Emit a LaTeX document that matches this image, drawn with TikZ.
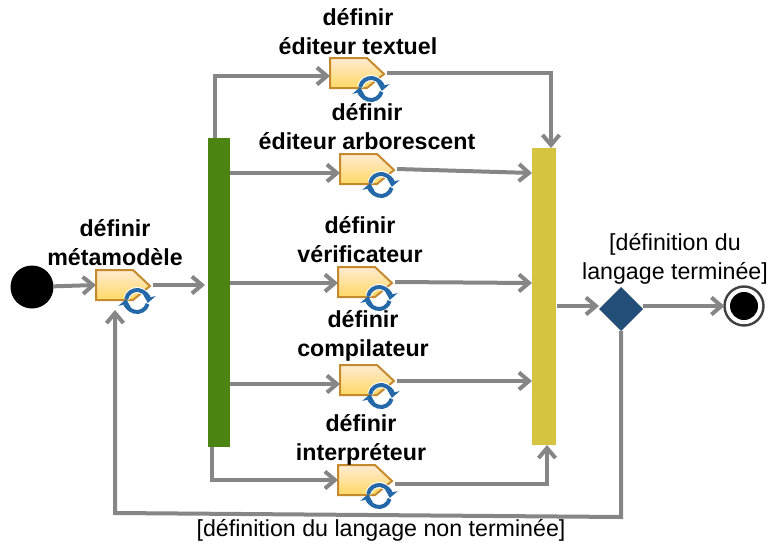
\documentclass[tikz,border=0pt]{standalone}
\usepackage{fontspec}
\setmainfont{Liberation Sans}
\usetikzlibrary{arrows.meta, positioning, shapes.geometric}
\definecolor{nicegray}{HTML}{868686}
\definecolor{nicegreen}{HTML}{4C8412}
\definecolor{niceyellow}{HTML}{D4C440}
\definecolor{niceblue}{HTML}{234E78}
\definecolor{iconblue}{HTML}{2468A8}
\definecolor{iconedge}{HTML}{C68A2E}
\tikzset{
  flow/.style={draw=nicegray, line width=4pt, -{Straight Barb[length=10pt,width=17pt]}},
  activitybox/.style={minimum width=54pt, minimum height=30pt, inner sep=0pt, outer sep=0pt},
  activityname/.style={font=\fontsize{23.2}{29.5}\selectfont\bfseries, align=center, inner sep=0pt},
  guard/.style={font=\fontsize{23.2}{29}\selectfont, align=center, inner sep=0pt},
  syncbar/.style={minimum width=22pt, inner sep=0pt, outer sep=0pt}
}
% name, position, y of incoming flow, y of outgoing flow
\newcommand{\activity}[4]{
  \node[activitybox] (#1) at (#2) {};
  \coordinate (#1-in) at ([yshift=#3]#1.west);
  \coordinate (#1-out) at ([xshift=3pt, yshift=#4]#1.east);
  \draw[iconedge, line width=2pt, top color=yellow!12!orange!18, bottom color=yellow!50!orange!60]
    (#1.north west) -- ([xshift=-17pt]#1.north east) -- ([yshift=-1pt]#1.east)
    -- ([xshift=-17pt]#1.south east) -- (#1.south west) -- cycle;
  \coordinate (#1-icon) at ([shift={(-13pt,-1pt)}]#1.south east);
  \draw[white, line width=6pt] (#1-icon) ++(170:11pt) arc (170:10:11pt);
  \draw[white, line width=6pt] (#1-icon) ++(350:11pt) arc (350:190:11pt);
  \draw[iconblue, line width=4pt, -{Stealth[length=8pt,width=13pt]}]
    (#1-icon) ++(170:11pt) arc (170:-10:11pt);
  \draw[iconblue, line width=4pt, -{Stealth[length=8pt,width=13pt]}]
    (#1-icon) ++(345:11pt) arc (345:170:11pt);
}
\begin{document}
\begin{tikzpicture}[x=1pt, y=1pt]
    \useasboundingbox (0,0) rectangle (769,-546);
    % bars
    \node[syncbar, fill=nicegreen, minimum height=309pt] (greenbar) at (219,-292.5) {};
    \node[syncbar, fill=niceyellow, minimum width=24pt, minimum height=297pt] (yellowbar) at (544,-296.5) {};
    % start, decision, end
    \node[circle, fill=black, minimum size=43pt, inner sep=0pt, outer sep=0pt] (start) at (32,-287) {};
    \node[diamond, fill=niceblue, minimum size=44pt, inner sep=0pt, outer sep=0pt] (decision) at (621,-309) {};
    \node[circle, draw=black!75, fill=white, line width=2.4pt, minimum size=39pt, inner sep=0pt, outer sep=0pt] (stop) at (744,-306) {};
    \node[circle, fill=black, minimum size=28pt, inner sep=0pt] (stopdot) at (stop) {};
    % activities
    \activity{meta}{123,-285}{0pt}{0pt}
    \activity{textuel}{357,-73}{-3pt}{0pt}
    \activity{arbo}{367,-169}{-4pt}{0pt}
    \activity{verif}{365,-282}{-1pt}{0pt}
    \activity{compil}{367,-380}{-4pt}{-1pt}
    \activity{interp}{365,-480}{0pt}{-4pt}
    % names
    \node[activityname, above=4pt of meta, xshift=-8pt] (metaname) {définir\\métamodèle};
    \node[activityname, above=3pt of textuel, xshift=1pt] (textuelname) {définir\\éditeur textuel};
    \node[activityname, above=4pt of arbo] (arboname) {définir\\éditeur arborescent};
    \node[activityname, above=4pt of verif, xshift=-5pt] (verifname) {définir\\vérificateur};
    \node[activityname, above=3pt of compil, xshift=-4pt] (compilname) {définir\\compilateur};
    \node[activityname, above=-1pt of interp, xshift=-4pt] (interpname) {définir\\interpréteur};
    % guards
    \node[guard] (doneguard) at (675,-259) {[définition du\\langage terminée]};
    \node[guard] (againguard) at (381,-530) {[définition du langage non terminée]};
    % flows
    \draw[flow] (start) -- (meta-in);
    \draw[flow] (meta-out) -- ([xshift=-3pt]greenbar.west |- meta-out);
    \draw[flow] ([xshift=-4pt]greenbar.north) |- (textuel-in);
    \draw[flow] (greenbar.east |- arbo-in) -- (arbo-in);
    \draw[flow] (greenbar.east |- verif-in) -- (verif-in);
    \draw[flow] (greenbar.east |- compil-in) -- (compil-in);
    \draw[flow] ([xshift=-7pt]greenbar.south) |- (interp-in);
    \draw[flow] (textuel-out) -- ([xshift=7pt]yellowbar.north |- textuel-out) -- ([xshift=7pt]yellowbar.north);
    \draw[flow] (arbo-out) -- (yellowbar.west |- arbo-in);
    \draw[flow] (verif-out) -- (yellowbar.west |- verif-in);
    \draw[flow] (compil-out) -- (yellowbar.west |- compil-out);
    \draw[flow] (interp-out) -- ([xshift=3pt]yellowbar.south |- interp-out) -- ([xshift=3pt]yellowbar.south);
    \draw[flow] ([xshift=1pt]yellowbar.east |- stop.west) -- (decision.west |- stop.west);
    \draw[flow] (decision.east |- stop.west) -- (stop.west);
    \draw[flow] (decision.south) -- ++(0,-186) -- ++(-506,4) -- ([xshift=-8pt, yshift=-10pt]meta.south);
\end{tikzpicture}
\end{document}
